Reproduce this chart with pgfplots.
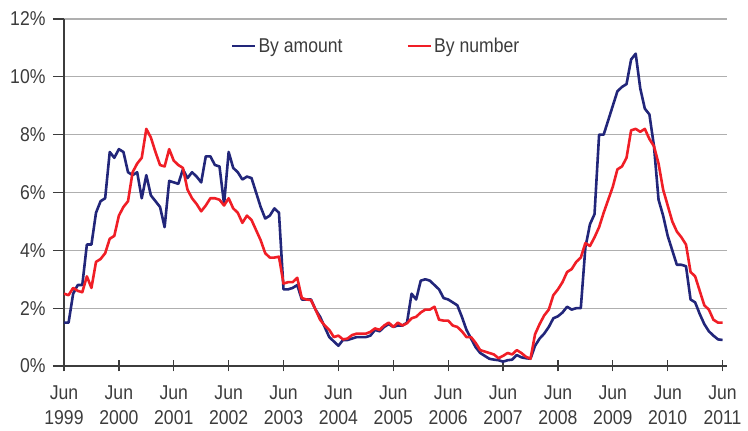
\documentclass[border=0pt]{standalone}
\usepackage{fontspec}
\setmainfont{Liberation Sans}[FakeStretch=0.88]
\usepackage{pgfplots}
\pgfplotsset{compat=1.18}
\definecolor{amount}{RGB}{34,38,122}
\definecolor{number}{RGB}{240,30,38}
\definecolor{txt}{RGB}{60,60,60}
\definecolor{gridc}{RGB}{175,175,175}

% months since Jun 1999, percent
\pgfplotstableread{
m v
0 1.5
1 1.5
2 2.5
3 2.8
4 2.8
5 4.2
6 4.2
7 5.3
8 5.7
9 5.8
10 7.4
11 7.2
12 7.5
13 7.4
14 6.7
15 6.6
16 6.7
17 5.8
18 6.6
19 5.9
20 5.7
21 5.5
22 4.8
23 6.4
24 6.35
25 6.3
26 6.8
27 6.5
28 6.7
29 6.55
30 6.35
31 7.25
32 7.25
33 6.95
34 6.9
35 5.6
36 7.4
37 6.85
38 6.7
39 6.45
40 6.55
41 6.5
42 6.0
43 5.5
44 5.1
45 5.2
46 5.45
47 5.3
48 2.65
49 2.65
50 2.7
51 2.8
52 2.3
53 2.3
54 2.3
55 1.95
56 1.7
57 1.35
58 1.0
59 0.85
60 0.7
61 0.9
62 0.9
63 0.95
64 1.0
65 1.0
66 1.0
67 1.05
68 1.25
69 1.2
70 1.35
71 1.45
72 1.35
73 1.4
74 1.4
75 1.5
76 2.5
77 2.3
78 2.95
79 3.0
80 2.95
81 2.8
82 2.65
83 2.35
84 2.3
85 2.2
86 2.1
87 1.7
88 1.25
89 0.95
90 0.65
91 0.45
92 0.35
93 0.25
94 0.22
95 0.2
96 0.15
97 0.2
98 0.22
99 0.38
100 0.3
101 0.27
102 0.25
103 0.7
104 0.95
105 1.12
106 1.35
107 1.65
108 1.72
109 1.85
110 2.05
111 1.95
112 2.0
113 2.0
114 4.1
115 4.9
116 5.25
117 8.0
118 8.0
119 8.5
120 9.0
121 9.5
122 9.65
123 9.75
124 10.6
125 10.8
126 9.6
127 8.9
128 8.7
129 7.6
130 5.75
131 5.2
132 4.5
133 4.0
134 3.5
135 3.5
136 3.45
137 2.3
138 2.2
139 1.8
140 1.45
141 1.2
142 1.05
143 0.92
144 0.9
}\byamount

\pgfplotstableread{
m v
0 2.5
1 2.45
2 2.7
3 2.6
4 2.55
5 3.1
6 2.7
7 3.6
8 3.7
9 3.9
10 4.4
11 4.5
12 5.2
13 5.5
14 5.7
15 6.7
16 7.0
17 7.2
18 8.2
19 7.9
20 7.4
21 6.95
22 6.9
23 7.5
24 7.1
25 6.95
26 6.85
27 6.1
28 5.8
29 5.6
30 5.35
31 5.55
32 5.8
33 5.8
34 5.75
35 5.55
36 5.8
37 5.45
38 5.3
39 4.95
40 5.2
41 5.05
42 4.7
43 4.35
44 3.9
45 3.75
46 3.75
47 3.78
48 2.85
49 2.9
50 2.9
51 3.05
52 2.35
53 2.3
54 2.28
55 1.95
56 1.6
57 1.4
58 1.25
59 1.0
60 1.05
61 0.92
62 0.95
63 1.07
64 1.12
65 1.12
66 1.12
67 1.18
68 1.3
69 1.25
70 1.4
71 1.5
72 1.35
73 1.5
74 1.4
75 1.48
76 1.65
77 1.7
78 1.85
79 1.95
80 1.95
81 2.05
82 1.6
83 1.57
84 1.57
85 1.4
86 1.35
87 1.2
88 1.0
89 1.0
90 0.8
91 0.55
92 0.5
93 0.45
94 0.4
95 0.27
96 0.35
97 0.45
98 0.4
99 0.55
100 0.45
101 0.32
102 0.25
103 1.1
104 1.45
105 1.75
106 1.95
107 2.45
108 2.65
109 2.9
110 3.25
111 3.35
112 3.6
113 3.75
114 4.25
115 4.15
116 4.45
117 4.8
118 5.3
119 5.75
120 6.2
121 6.8
122 6.9
123 7.2
124 8.15
125 8.2
126 8.1
127 8.2
128 7.85
129 7.6
130 7.0
131 6.1
132 5.55
133 5.0
134 4.65
135 4.45
136 4.2
137 3.25
138 3.1
139 2.6
140 2.1
141 1.95
142 1.6
143 1.5
144 1.5
}\bynumber

\begin{document}
\begin{tikzpicture}
\useasboundingbox (-64pt,-65pt) rectangle (684pt,366pt);
\begin{axis}[
    scale only axis, width=662.7pt, height=347pt,
    xmin=0, xmax=144.9, ymin=0, ymax=12,
    axis x line=bottom, axis y line=left,
    axis line style={-, draw=txt, line width=1.3pt},
    every tick/.style={draw=txt, line width=1.3pt},
    major tick length=11pt,
    xtick align=center, ytick align=outside,
    xtick={0,12,...,144},
    xticklabels={{Jun\\1999},{Jun\\2000},{Jun\\2001},{Jun\\2002},{Jun\\2003},{Jun\\2004},{Jun\\2005},{Jun\\2006},{Jun\\2007},{Jun\\2008},{Jun\\2009},{Jun\\2010},{Jun\\2011}},
    ytick={0,2,...,12},
    yticklabels={0\%,2\%,4\%,6\%,8\%,10\%,12\%},
    tick label style={font=\fontsize{20}{25}\selectfont, text=txt},
    xticklabel style={align=center, yshift=-11pt},
    yticklabel style={xshift=-4pt},
    ymajorgrids, grid style={draw=gridc, line width=1.3pt},
    legend style={at={(0.471,0.922)}, anchor=center, draw=none, fill=none,
        font=\fontsize{20}{24}\selectfont, text=txt, legend columns=2,
        /tikz/every even column/.append style={column sep=62pt}},
    legend image code/.code={\draw[#1] (0pt,0pt) -- (23pt,0pt);},
]
\addplot[amount, line width=2.6pt, line join=round] table[x=m, y=v] {\byamount};
\addlegendentry{By amount}
\addplot[number, line width=2.6pt, line join=round] table[x=m, y=v] {\bynumber};
\addlegendentry{By number}
\end{axis}
\end{tikzpicture}
\end{document}
